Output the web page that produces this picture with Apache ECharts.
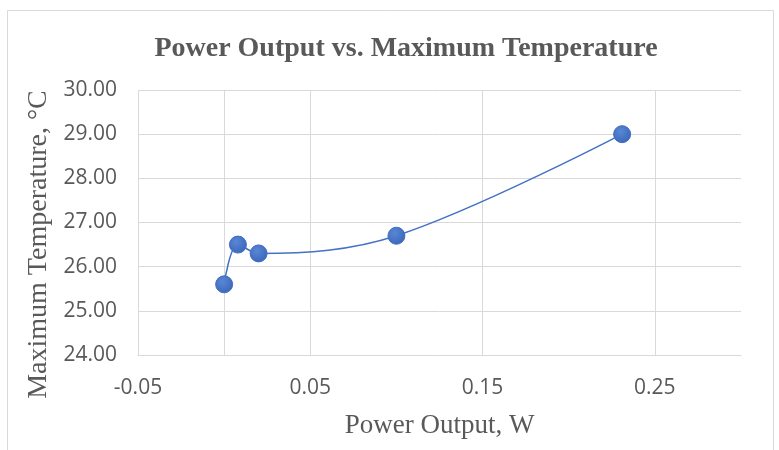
<!DOCTYPE html>
<html>
<head>
<meta charset="utf-8">
<script src="https://cdn.jsdelivr.net/npm/echarts@6/dist/echarts.min.js"></script>
<style>
  html, body { margin: 0; padding: 0; background: #fff; }
  #chart { width: 779px; height: 450px; }
</style>
</head>
<body>
<div id="chart"></div>
<script>
  // 数据
  const powerOutput = [0, 0.008, 0.02, 0.1, 0.231];
  const maxTemp = [25.6, 26.5, 26.3, 26.7, 29.0];

  const myChart = echarts.init(document.getElementById('chart'));

  const options = {
    animation: false,
    title: {
      text: 'Power Output vs. Maximum Temperature',
      left: 401,
      top: 30,
      textAlign: 'center',
      textStyle: {
        fontFamily: 'Liberation Serif',
        fontWeight: 'bold',
        fontSize: 28,
        color: '#595959'
      }
    },
    //外边框
    graphic: [{
      type: 'rect',
      shape: { x: 7.5, y: 10.5, width: 766, height: 450 },
      style: { fill: 'none', stroke: '#d9d9d9', lineWidth: 1 },
      z: -1
    }],
    grid: { left: 138, right: 38, top: 90, bottom: 95 },
    xAxis: {
      type: 'value',
      min: -0.05,
      max: 0.3,
      interval: 0.1,
      name: 'Power Output, W',
      nameLocation: 'middle',
      nameGap: 57,
      nameTextStyle: { fontFamily: 'Liberation Serif', fontSize: 27, color: '#595959' },
      axisLine: { show: true, lineStyle: { color: '#d9d9d9', width: 1 } },
      axisTick: { show: false },
      axisLabel: {
        showMaxLabel: false,
        margin: 23,
        fontFamily: 'Open Sans',
        fontSize: 21,
        color: '#595959',
        formatter: v => v.toFixed(2)
      },
      splitLine: { show: true, showMaxLine: false, lineStyle: { color: '#d9d9d9', width: 1 } }
    },
    yAxis: {
      type: 'value',
      min: 24,
      max: 30,
      interval: 1,
      name: 'Maximum Temperature, °C',
      nameLocation: 'middle',
      nameGap: 82,
      nameTextStyle: {
        fontFamily: 'Liberation Serif',
        fontSize: 28,
        color: '#595959',
        padding: [0, 44, 0, 0]
      },
      axisLine: { show: true, lineStyle: { color: '#d9d9d9', width: 1 } },
      axisTick: { show: false },
      axisLabel: {
        margin: 21,
        fontFamily: 'Open Sans',
        fontSize: 21,
        color: '#595959',
        formatter: v => v.toFixed(2)
      },
      splitLine: { show: true, lineStyle: { color: '#d9d9d9', width: 1 } }
    },
    series: [{
      type: 'line',
      data: powerOutput.map((x, i) => [x, maxTemp[i]]),
      smooth: 0.35,
      symbol: 'circle',
      symbolSize: 17,
      lineStyle: { color: '#4472C4', width: 1.5 },
      itemStyle: {
        color: new echarts.graphic.RadialGradient(0.4, 0.35, 0.7, [
          { offset: 0, color: '#5a86d6' },
          { offset: 1, color: '#3a66b8' }
        ]),
        borderColor: '#3f6cbf',
        borderWidth: 1
      }
    }]
  };

  myChart.setOption(options);
</script>
</body>
</html>
